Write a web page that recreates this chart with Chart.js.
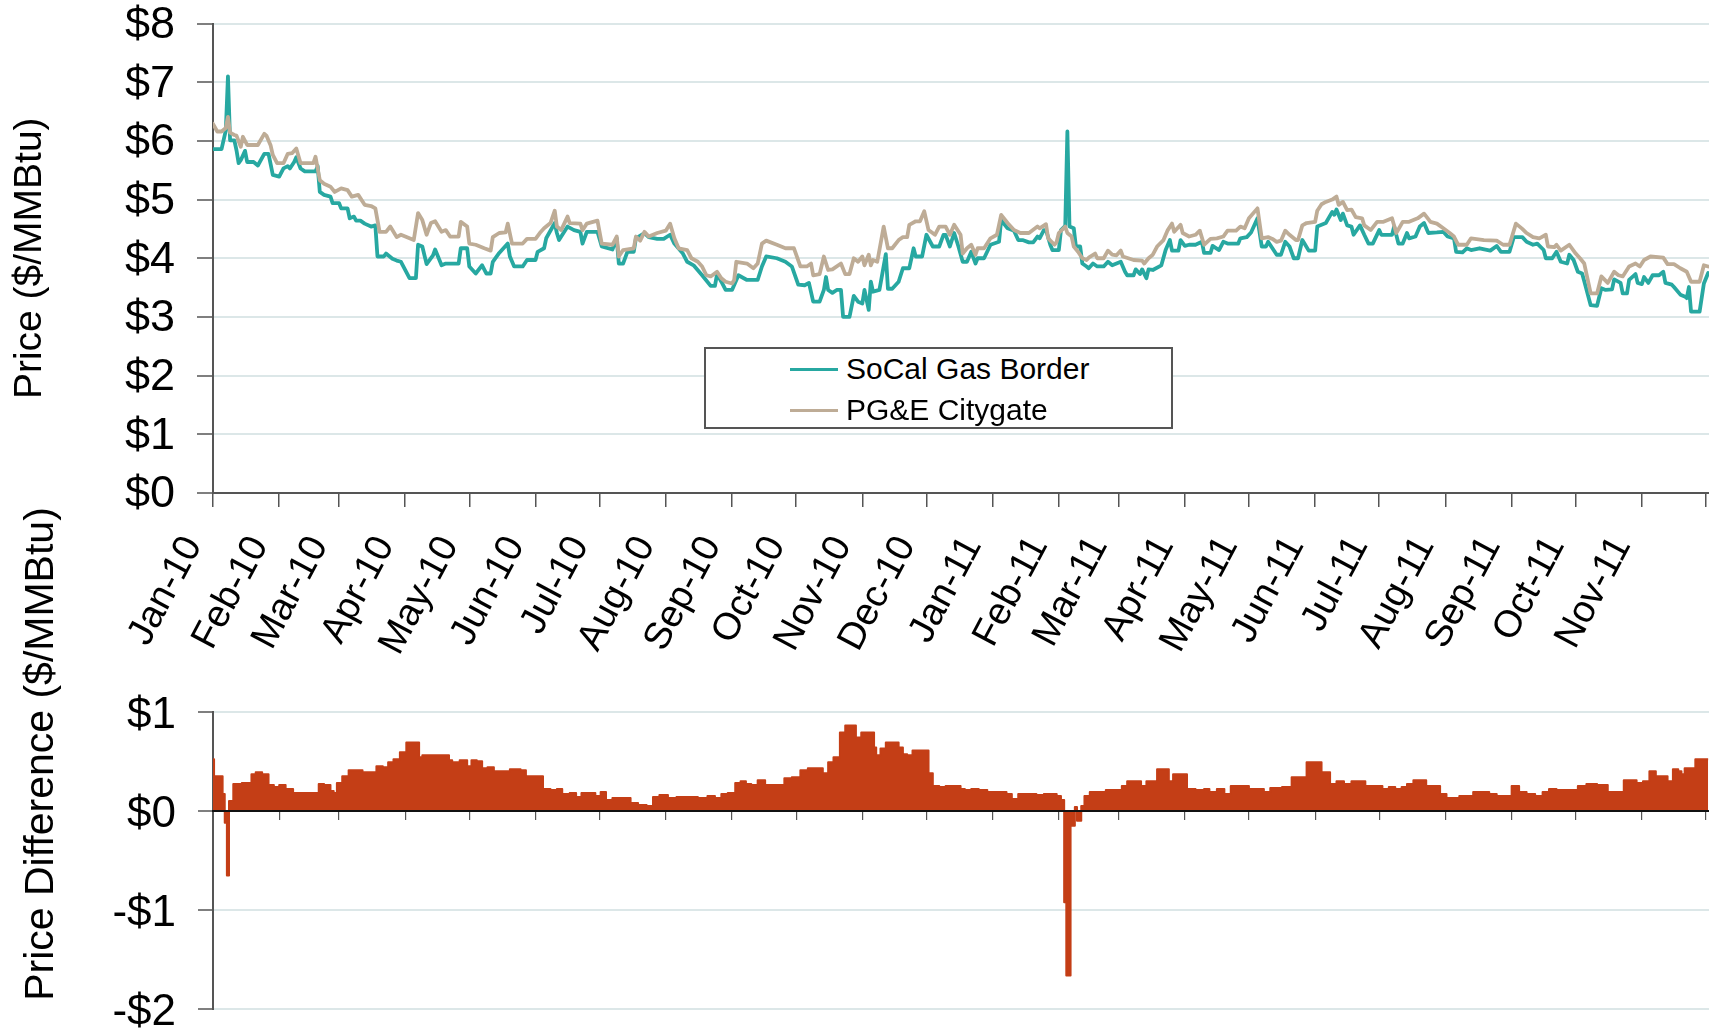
<!DOCTYPE html>
<html>
<head>
<meta charset="utf-8">
<script src="https://cdn.jsdelivr.net/npm/chart.js@4.4.1/dist/chart.umd.min.js"></script>
<style>
  html, body { margin:0; padding:0; background:#fff; }
  body { width:1709px; height:1030px; overflow:hidden; position:relative; font-family:'Liberation Sans', Arial, sans-serif; }
  #topWrap { position:absolute; left:0; top:0; width:1709px; height:680px; }
  #botWrap { position:absolute; left:0; top:680px; width:1709px; height:350px; }
  #legend { position:absolute; left:704px; top:347px; width:469px; height:82px; box-sizing:border-box;
            border:2px solid #555; background:#fff; }
  .lgRow { position:absolute; left:0; height:40px; width:100%; }
  .lgLine { position:absolute; left:84px; width:48px; height:3px; top:19px; }
  .lgText { position:absolute; left:140px; top:0; height:40px; line-height:40px; font-size:30px; color:#000; white-space:nowrap; }
  #botTitle { position:absolute; width:600px; height:50px; line-height:50px; text-align:center; font-size:41px; color:#000;
              left:-261px; top:729px; transform:rotate(-90deg); white-space:nowrap; }
</style>
</head>
<body>
<div id="topWrap"><canvas id="c1"></canvas></div>
<div id="botWrap"><canvas id="c2"></canvas></div>
<div id="legend"></div>
<div id="botTitle">Price Difference ($/MMBtu)</div>
<script>
// ---------- DATA ----------
// x positions are day offsets from 1 Jan 2010
const monthTickDays = [0,31,59,90,120,151,181,212,243,273,304,334,365,396,424,455,485,516,546,577,608,638,669,699];
const monthLabels = ['Jan-10','Feb-10','Mar-10','Apr-10','May-10','Jun-10','Jul-10','Aug-10','Sep-10','Oct-10','Nov-10','Dec-10',
                     'Jan-11','Feb-11','Mar-11','Apr-11','May-11','Jun-11','Jul-11','Aug-11','Sep-11','Oct-11','Nov-11'];
const priceTickValues = [0,1,2,3,4,5,6,7,8];
const diffTickValues = [-2,-1,0,1];
const seriesNames = ['SoCal Gas Border', 'PG&E Citygate'];
const diffName = 'Price Difference';

const socalDays = [0,4,6,7,8,10,11,12,13,15,16,19,21,24,26,28,31,33,35,36,38,39,41,43,48,49,50,52,55,56,59,60,63,64,66,67,69,71,74,76,77,80,81,84,86,
  88,92,95,96,98,100,103,104,107,109,115,116,119,120,123,126,128,130,131,134,138,139,141,145,147,151,152,155,156,160,161,162,166,169,172,173,175,180,182,187,189,190,192,194,197,198,202,204,208,211,214,216,220,222,225,229,233,235,236,238,240,243,246,250,255,257,259,264,268,271,274,
  277,279,281,284,286,287,288,290,292,294,295,298,300,302,304,305,307,308,309,312,313,315,316,318,321,323,326,328,329,332,334,337,340,342,343,345,347,349,351,353,355,357,358,361,364,368,369,372,375,377,379,382,384,386,387,389,390,392,393,396,397,399,400,401,403,404,406,407,409,410,412,414,417,419,421,425,427,428,431,432,434,435,437,438,440,444,446,448,449,452,453,455,457,460,463,464,467,468,471,473,475,480,481,484,486,
  489,491,493,494,496,498,500,502,504,506,508,510,511,513,516,517,521,524,525,526,528,529,531,533,534,537,539,541,543,546,547,552,553,555,557,559,560,563,565,567,569,573,576,578,581,582,585,587,589,593,598,601,603,607,609,613,615,618,620,623,624,627,629,631,634,635,637,639,641,642,645,648,650,652,655,656,659,660,662,663,666,667,669,670,672,674,677,679,680,683,684,687,689,690,691,692,696,698,700];
const socalPrice = [5.86,5.86,6.18,7.10,6.01,6.01,5.84,5.62,5.67,5.83,5.64,5.64,5.58,5.78,5.78,5.42,5.39,5.53,5.57,5.53,5.64,5.72,5.53,5.48,5.48,5.57,5.13,5.08,5.05,4.94,4.94,4.85,4.85,4.68,4.71,4.64,4.64,4.59,4.54,4.56,4.03,4.03,4.08,3.99,3.96,
  3.94,3.66,3.66,4.23,4.20,3.90,4.05,4.15,3.88,3.91,3.91,4.17,4.17,3.86,3.74,3.88,3.74,3.74,3.94,4.09,4.25,4.03,3.86,3.86,3.97,3.97,4.11,4.17,4.34,4.60,4.43,4.31,4.54,4.48,4.45,4.25,4.45,4.45,4.20,4.15,4.34,3.91,3.91,4.11,4.11,4.34,4.43,4.36,4.33,4.33,4.40,4.25,4.08,3.94,3.88,3.71,3.53,3.53,3.73,3.60,3.46,3.46,3.71,3.63,3.63,3.86,4.03,4.00,3.94,3.86,3.55,
  3.54,3.58,3.26,3.26,3.46,3.68,3.46,3.41,3.46,3.46,3.00,3.00,3.36,3.26,3.23,3.46,3.12,3.60,3.43,3.46,3.66,4.07,3.48,3.48,3.60,3.83,3.83,4.17,4.03,4.03,4.40,4.20,4.20,4.40,4.40,4.20,4.43,4.20,3.94,3.94,4.11,3.91,4.00,4.00,4.23,4.28,4.65,4.51,4.47,4.31,4.31,4.27,4.27,4.37,4.34,4.48,4.48,4.23,4.14,4.14,4.48,4.55,6.16,4.54,4.51,4.20,4.20,3.91,3.86,3.83,3.91,3.86,3.86,3.94,3.88,3.94,3.77,3.71,3.71,3.81,3.73,3.81,3.66,3.81,3.80,3.88,4.14,4.31,4.13,4.13,4.31,4.21,4.23,4.23,4.28,4.09,4.09,4.21,4.14,4.28,4.25,4.25,4.34,4.36,4.44,
  4.68,4.20,4.20,4.28,4.17,4.06,4.06,4.28,4.20,4.00,4.00,4.31,4.25,4.13,4.13,4.54,4.60,4.79,4.74,4.83,4.65,4.76,4.56,4.54,4.40,4.56,4.40,4.25,4.25,4.48,4.40,4.40,4.54,4.25,4.25,4.43,4.34,4.37,4.54,4.60,4.43,4.44,4.45,4.37,4.34,4.11,4.10,4.17,4.14,4.17,4.13,4.21,4.11,4.11,4.36,4.36,4.28,4.23,4.25,4.14,4.00,4.00,4.11,3.94,3.91,4.06,3.97,3.77,3.74,3.61,3.20,3.19,3.49,3.46,3.47,3.64,3.58,3.40,3.40,3.63,3.73,3.58,3.56,3.68,3.58,3.71,3.71,3.77,3.58,3.55,3.51,3.38,3.35,3.32,3.51,3.09,3.09,3.57,3.75];

const pgeDays = [0,2,4,6,7,8,10,11,13,14,16,21,24,25,27,28,30,33,35,37,39,41,47,48,50,52,55,57,60,63,65,68,71,74,76,78,81,83,84,86,
  88,94,96,98,100,102,104,107,109,111,115,116,119,120,123,127,130,131,134,137,138,140,145,147,151,153,155,158,160,161,163,166,167,172,173,175,180,182,187,189,190,192,197,198,200,202,204,208,212,214,216,218,222,224,227,229,231,233,236,238,240,243,244,245,250,253,255,257,259,264,268,272,275,
  278,280,281,284,286,288,290,294,296,298,300,302,304,305,307,308,309,311,314,316,318,321,323,325,326,329,331,333,335,338,340,343,345,347,350,351,353,355,357,358,361,364,367,369,372,375,378,382,386,387,390,391,394,395,396,399,400,402,403,405,407,409,410,413,414,417,419,421,423,425,426,431,435,436,438,440,442,445,447,449,450,453,454,457,460,462,464,467,470,473,475,479,481,483,485,
  489,491,494,496,498,500,502,504,507,508,510,512,516,517,519,521,524,526,527,529,531,533,535,538,539,542,545,548,552,554,557,560,564,567,570,573,576,579,581,583,587,589,595,601,604,607,610,613,615,618,621,624,625,628,629,631,635,638,640,642,645,648,650,653,656,658,660,663,666,668,670,673,679,681,684,687,690,692,696,698,700];
const pgePrice = [6.29,6.16,6.16,6.22,6.41,6.14,6.10,6.09,5.90,6.07,5.93,5.93,6.12,6.09,5.92,5.76,5.62,5.62,5.78,5.79,5.87,5.62,5.62,5.73,5.33,5.27,5.22,5.13,5.19,5.16,5.05,5.08,4.91,4.89,4.85,4.45,4.45,4.54,4.48,4.36,
  4.40,4.31,4.77,4.65,4.40,4.60,4.63,4.45,4.48,4.37,4.37,4.62,4.54,4.25,4.23,4.17,4.13,4.36,4.43,4.44,4.59,4.25,4.25,4.33,4.33,4.43,4.51,4.60,4.81,4.54,4.48,4.71,4.60,4.59,4.48,4.59,4.64,4.25,4.23,4.37,4.03,4.14,4.17,4.37,4.30,4.45,4.37,4.43,4.47,4.59,4.34,4.17,4.14,4.00,3.94,3.86,3.71,3.69,3.77,3.66,3.60,3.57,3.63,3.94,3.91,3.83,3.91,4.25,4.30,4.23,4.17,4.17,3.86,
  3.86,3.91,3.71,3.73,4.03,3.80,3.81,3.91,3.73,3.73,4.00,3.94,4.03,3.88,4.06,3.88,3.97,3.94,4.54,4.17,4.17,4.31,4.36,4.36,4.57,4.63,4.63,4.80,4.48,4.40,4.54,4.54,4.40,4.57,4.40,4.08,4.17,4.23,4.06,4.17,4.17,4.34,4.40,4.74,4.60,4.48,4.43,4.43,4.54,4.51,4.58,4.34,4.23,4.28,4.43,4.54,4.43,4.37,4.20,4.11,4.00,3.97,4.01,4.08,4.00,4.00,4.13,4.06,4.05,4.13,4.03,3.97,3.96,3.91,4.00,4.06,4.20,4.31,4.48,4.59,4.45,4.57,4.43,4.37,4.40,4.47,4.23,4.33,4.34,4.37,4.47,4.47,4.54,4.51,4.68,
  4.85,4.34,4.36,4.33,4.28,4.30,4.47,4.40,4.31,4.31,4.56,4.60,4.62,4.81,4.92,4.96,5.00,5.05,4.91,4.96,4.82,4.83,4.70,4.68,4.56,4.48,4.62,4.62,4.68,4.43,4.62,4.62,4.68,4.76,4.62,4.59,4.51,4.43,4.37,4.23,4.23,4.34,4.31,4.30,4.23,4.23,4.59,4.50,4.43,4.36,4.34,4.40,4.20,4.19,4.23,4.13,4.23,4.08,4.00,3.91,3.40,3.40,3.69,3.58,3.77,3.71,3.69,3.86,3.91,3.86,3.97,4.03,4.01,3.90,3.90,3.83,3.77,3.60,3.60,3.88,3.86];

const diffDays = [0,1,4,5,6,7,8,9,10,17,19,21,25,27,30,32,36,39,49,50,54,56,57,59,62,65,75,78,81,83,86,89,92,96,97,99,110,111,113,118,120,122,125,127,130,133,138,140,143,145,148,153,156,160,162,165,169,171,174,178,180,183,185,189,194,197,201,205,207,211,215,219,224,230,233,237,239,243,246,248,251,253,257,260,266,269,273,277,280,284,287,289,292,295,297,300,302,305,309,310,311,314,316,320,322,324,326,329,334,336,338,342,344,349,351,353,357,360,365,370,373,375,379,384,387,391,394,396,398,399,400,401,402,403,404,405,406,407,409,412,416,420,424,427,429,433,436,438,441,443,447,448,451,455,457,463,465,468,472,475,478,483,487,491,493,497,504,506,510,514,518,520,522,524,528,531,535,538,541,546,549,552,555,558,560,564,567,569,573,576,579,582,585,588,592,596,599,603,606,610,613,617,621,624,627,631,637,641,645,651,655,659,662,665,668,671,674,677,680,682,685,687,688,690,693,695,700];
const priceDiff = [0.52,0.35,0.35,0.17,-0.12,-0.65,0.10,0.10,0.27,0.28,0.37,0.39,0.37,0.26,0.24,0.26,0.22,0.18,0.18,0.27,0.26,0.20,0.18,0.28,0.35,0.41,0.39,0.45,0.44,0.49,0.52,0.59,0.69,0.69,0.54,0.56,0.56,0.51,0.49,0.51,0.45,0.51,0.50,0.43,0.44,0.40,0.40,0.42,0.42,0.41,0.35,0.35,0.22,0.21,0.22,0.17,0.18,0.14,0.18,0.18,0.15,0.19,0.11,0.13,0.13,0.08,0.06,0.05,0.14,0.16,0.13,0.14,0.14,0.13,0.15,0.13,0.17,0.18,0.28,0.30,0.27,0.26,0.31,0.26,0.26,0.33,0.34,0.41,0.43,0.43,0.38,0.49,0.54,0.79,0.86,0.86,0.74,0.79,0.79,0.64,0.56,0.63,0.69,0.69,0.64,0.57,0.56,0.61,0.61,0.38,0.25,0.24,0.25,0.25,0.22,0.21,0.22,0.21,0.19,0.19,0.17,0.12,0.17,0.17,0.16,0.17,0.17,0.15,0.11,-0.92,-1.66,-1.66,-0.15,-0.15,0.04,-0.10,-0.10,0.05,0.15,0.19,0.19,0.21,0.21,0.25,0.30,0.30,0.25,0.30,0.30,0.42,0.42,0.30,0.37,0.37,0.22,0.21,0.22,0.19,0.22,0.17,0.25,0.25,0.22,0.22,0.19,0.23,0.24,0.34,0.34,0.49,0.49,0.39,0.39,0.27,0.30,0.27,0.30,0.30,0.25,0.25,0.22,0.24,0.22,0.24,0.27,0.31,0.31,0.25,0.25,0.17,0.13,0.13,0.15,0.15,0.19,0.19,0.17,0.15,0.15,0.25,0.19,0.17,0.15,0.19,0.22,0.21,0.21,0.25,0.27,0.26,0.19,0.19,0.31,0.31,0.28,0.30,0.40,0.35,0.35,0.30,0.42,0.40,0.37,0.43,0.43,0.52,0.52];

// ---------- STYLE ----------
const FONT = "'Liberation Sans', Arial, sans-serif";
const TEAL = '#27A8A1';
const TAN = '#BEAC96';
const BAR = '#C43E16';
const GRID = '#DCE7E8';
const AXIS = '#555555';
const X_MAX = 700.4;

Chart.defaults.font.family = FONT;
Chart.defaults.color = '#000';

const pts = (xs, ys) => xs.map((x, i) => ({x: x, y: ys[i]}));
const monthTicks = scale => { scale.ticks = monthTickDays.map(v => ({value: v})); };

// ---------- TOP CHART ----------
new Chart(document.getElementById('c1'), {
  type: 'line',
  data: {
    datasets: [
      { label: seriesNames[0], data: pts(socalDays, socalPrice), borderColor: TEAL, backgroundColor: TEAL,
        borderWidth: 3.8, pointRadius: 0, tension: 0, order: 1, borderJoinStyle: 'round', borderCapStyle: 'round', fill: false },
      { label: seriesNames[1], data: pts(pgeDays, pgePrice), borderColor: TAN, backgroundColor: TAN,
        borderWidth: 3.8, pointRadius: 0, tension: 0, order: 0, borderJoinStyle: 'round', borderCapStyle: 'round', fill: false }
    ]
  },
  options: {
    responsive: true, maintainAspectRatio: false, animation: false, devicePixelRatio: 1,
    layout: { padding: { top: 23.5, left: 0, right: 0, bottom: 0 } },
    plugins: { legend: { display: false }, tooltip: { enabled: false } },
    scales: {
      x: {
        type: 'linear', min: 0, max: X_MAX, position: 'bottom',
        afterBuildTicks: monthTicks,
        afterFit: s => { s.height = 187; s.paddingLeft = 0; s.paddingRight = 0; },
        grid: { drawOnChartArea: false, drawTicks: true, tickLength: 14, color: AXIS, lineWidth: 1.5 },
        border: { color: AXIS, width: 2 },
        ticks: { autoSkip: false, minRotation: 62, maxRotation: 62, padding: 22, labelOffset: -20, font: { size: 38 }, color: '#000',
                 callback: (v, i) => (monthLabels[i] !== undefined ? monthLabels[i] : '') }
      },
      y: {
        min: 0, max: 8,
        afterBuildTicks: s => { s.ticks = priceTickValues.map(v => ({value: v})); },
        afterFit: s => { s.width = 213; s.paddingTop = 0; s.paddingBottom = 0; },
        grid: { color: GRID, lineWidth: 2, tickColor: AXIS, tickLength: 16, tickWidth: 1.5 },
        border: { color: AXIS, width: 2 },
        ticks: { padding: 22, labelOffset: 2, font: { size: 45 }, color: '#000', callback: v => '$' + v },
        title: { display: true, text: 'Price ($/MMBtu)', font: { size: 39 }, color: '#000', padding: { top: 7, bottom: 0 } }
      }
    }
  }
});

// ---------- LEGEND (HTML) ----------
(function () {
  const lg = document.getElementById('legend');
  const cols = [TEAL, TAN];
  seriesNames.forEach((name, i) => {
    const row = document.createElement('div');
    row.className = 'lgRow';
    row.style.top = (i === 0 ? 0 : 41) + 'px';
    const ln = document.createElement('div');
    ln.className = 'lgLine'; ln.style.background = cols[i];
    const tx = document.createElement('div');
    tx.className = 'lgText'; tx.textContent = name;
    row.appendChild(ln); row.appendChild(tx); lg.appendChild(row);
  });
})();

// ---------- BOTTOM CHART ----------
new Chart(document.getElementById('c2'), {
  type: 'line',
  data: {
    datasets: [
      { label: diffName, data: pts(diffDays, priceDiff), stepped: 'middle', fill: 'origin',
        borderColor: BAR, backgroundColor: BAR, borderWidth: 2, pointRadius: 0, tension: 0, borderJoinStyle: 'round' }
    ]
  },
  options: {
    responsive: true, maintainAspectRatio: false, animation: false, devicePixelRatio: 1,
    layout: { padding: { top: 31.7, left: 0, right: 0, bottom: 20.7 } },
    plugins: { legend: { display: false }, tooltip: { enabled: false } },
    scales: {
      x: {
        type: 'linear', min: 0, max: X_MAX, position: { y: 0 },
        afterBuildTicks: monthTicks,
        afterFit: s => { s.paddingLeft = 0; s.paddingRight = 0; },
        grid: { drawOnChartArea: false, drawTicks: true, tickLength: 8, color: AXIS, lineWidth: 1.2 },
        border: { color: '#111', width: 2, z: 1 },
        ticks: { display: false }
      },
      y: {
        min: -2, max: 1,
        afterBuildTicks: s => { s.ticks = diffTickValues.map(v => ({value: v})); },
        afterFit: s => { s.width = 213; s.paddingTop = 0; s.paddingBottom = 0; },
        grid: { color: GRID, lineWidth: 2, tickColor: AXIS, tickLength: 15, tickWidth: 1.5 },
        border: { color: AXIS, width: 2 },
        ticks: { padding: 22, labelOffset: 4, font: { size: 44 }, color: '#000', callback: v => (v < 0 ? '-$' + Math.abs(v) : '$' + v) }
      }
    }
  }
});
</script>
</body>
</html>
